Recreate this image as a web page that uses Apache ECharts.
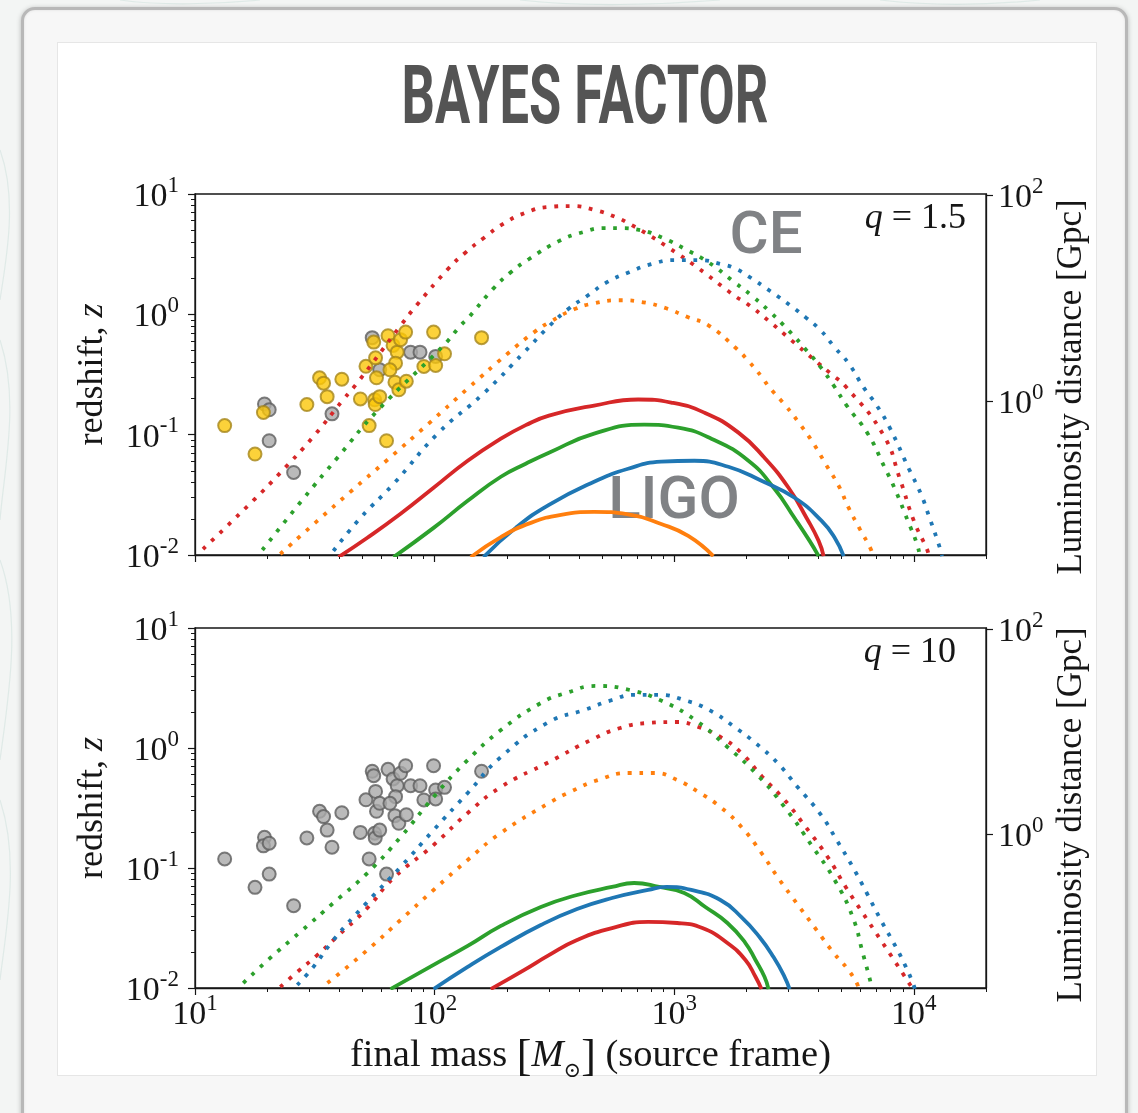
<!DOCTYPE html>
<html>
<head>
<meta charset="utf-8">
<title>Bayes factor</title>
<script src="https://cdn.jsdelivr.net/npm/echarts@6.0.0/dist/echarts.min.js"></script>
<style>
  html, body { margin: 0; padding: 0; width: 1138px; height: 1113px; overflow: hidden; background: #f3f5f4; }
  #swirl { position: absolute; left: 0; top: 0; }
  #card { position: absolute; left: 21px; top: 7px; width: 1107px; height: 1140px; box-sizing: border-box;
          border: 3px solid #b8b8b8; border-radius: 14px; background: #f7f7f7;
          box-shadow: 0 1px 5px rgba(0,0,0,0.25), inset 0 0 3px rgba(0,0,0,0.10); }
  #panel { position: absolute; left: 57px; top: 42px; width: 1040px; height: 1034px; box-sizing: border-box;
           background: #fff; border: 1px solid #e6e6e6; }
  #chart { position: absolute; left: 0; top: 0; width: 1138px; height: 1113px; }
</style>
</head>
<body>
<svg id="swirl" width="1138" height="1113">
  <g fill="none" stroke="#9cc4ba" stroke-opacity="0.22" stroke-width="1.2">
    <path d="M0 150 C 18 200, 6 260, 0 300"/>
    <path d="M0 340 C 20 400, 4 470, 0 520"/>
    <path d="M0 560 C 22 620, 8 700, 0 760"/>
    <path d="M0 800 C 20 860, 6 930, 0 980"/>
    <path d="M120 0 C 160 6, 220 4, 260 0"/>
    <path d="M520 0 C 580 7, 660 5, 720 0"/>
    <path d="M880 0 C 930 6, 990 5, 1040 0"/>
  </g>
</svg>
<div id="card"></div>
<div id="panel"></div>
<div id="chart"></div>
<script>
// ---------------- data ----------------
// axis extents
const massRange = [10, 20000];          // final mass, solar masses
const redshiftRange = [0.01, 10];

// tick values
const massTicks = [10, 100, 1000, 10000];
const redshiftTicks = [0.01, 0.1, 1, 10];
const minorSteps = [2, 3, 4, 5, 6, 7, 8, 9];
const distanceTicksGpc = [1, 100];
const distanceTickRedshift = [0.19, 9.8];   // redshift at which d_L reaches each distance tick

// detected events: [final mass, redshift]
const eventMassRedshift = [
  [13.3, 0.119], [17.8, 0.069], [19.5, 0.18], [19.3, 0.153], [20.4, 0.161], [20.4, 0.089],
  [25.8, 0.0485], [29.3, 0.178], [33.1, 0.297], [34.4, 0.268], [35.6, 0.207], [37.3, 0.149],
  [41.0, 0.289], [49.0, 0.198], [51.7, 0.37], [53.3, 0.119], [54.9, 0.64], [55.7, 0.588],
  [56.7, 0.435], [57.2, 0.297], [56.2, 0.195], [56.5, 0.178], [59.0, 0.207], [59.0, 0.346],
  [63.0, 0.089], [63.9, 0.664], [67.1, 0.552], [69.8, 0.485], [68.7, 0.393], [65.1, 0.346],
  [72.1, 0.616], [75.7, 0.712], [68.3, 0.273], [70.9, 0.236], [76.2, 0.278], [79.4, 0.485],
  [86.9, 0.485], [90.2, 0.369], [101, 0.447], [101, 0.376], [99, 0.712], [110, 0.47], [157, 0.64]
];
// 1 = event favoured by the Bayes factor for q = 1.5
const favouredQ15 = [
  1, 1, 0, 1, 0, 0,
  0, 1, 1, 1, 1, 0,
  1, 1, 1, 1, 0, 1,
  1, 1, 1, 1, 1, 0,
  1, 1, 1, 1, 1, 1,
  1, 1, 1, 1, 1, 0,
  0, 1, 0, 1, 1, 1, 1
];

// horizon curves, q = 1.5: [final mass, redshift]
const ceRedQ15 = [[10.8,0.0112],[17.8,0.0293],[22.7,0.0482],[30.9,0.0944],[41.6,0.196],[48.1,0.277],[72.8,0.826],[84.1,1.19],[113.4,2.37],[133.5,3.22],[160.3,4.30],[192.5,5.62],[238,6.95],[297,7.79],[371,7.94],[467,7.36],[583,6.31],[642,5.73],[786,4.55],[953,3.55],[1260,2.42],[1667,1.58],[1817,1.39],[2001,1.235],[2521,0.858],[3087,0.607],[3780,0.43],[4494,0.322],[5245,0.246],[7491,0.098],[8740,0.043],[10000,0.0192],[11335,0.0112],[11555,0.0098]];
const ceGreenQ15 = [[19.1,0.011],[28.3,0.0293],[39.3,0.0643],[57.7,0.158],[109,0.552],[128.5,0.81],[138.8,0.944],[174.9,1.62],[208,2.24],[247,2.87],[330,4.06],[416,4.82],[514,5.21],[583,5.21],[721,5.01],[899,4.3],[1112,3.48],[1388,2.71],[1782,1.85],[2121,1.41],[2521,1.04],[2999,0.736],[3567,0.501],[4122,0.355],[4627,0.256],[5245,0.1745],[6420,0.102],[7561,0.0531],[8328,0.0355],[9438,0.0192],[10294,0.0124],[10596,0.0098]];
const ceBlueQ15 = [[37.8,0.0108],[49,0.0203],[67.4,0.039],[103,0.102],[160,0.22],[236,0.482],[300,0.794],[360,1.1],[437,1.44],[524,1.85],[648,2.24],[801,2.61],[1000,2.82],[1272,2.82],[1573,2.61],[1782,2.42],[2040,2.07],[2521,1.555],[3087,1.166],[3533,0.944],[4083,0.736],[4672,0.531],[5346,0.39],[6177,0.246],[7003,0.1745],[7935,0.114],[9530,0.0521],[10697,0.0322],[11555,0.0211],[12849,0.0114],[13100,0.0098]];
const ceOrangeQ15 = [[22.7,0.0102],[32.4,0.0192],[44.5,0.0335],[63.6,0.0619],[94.4,0.1236],[137.4,0.2416],[202,0.473],[259.5,0.708],[305.7,0.874],[381.5,1.10],[462.8,1.235],[588.8,1.309],[741.9,1.259],[925.7,1.122],[1144,0.944],[1388,0.81],[1817,0.52],[2060,0.40],[2312,0.304],[2498,0.2466],[2913,0.1745],[3334,0.1236],[3815,0.0841],[4325,0.0552],[4856,0.0376],[5346,0.0246],[5944,0.0165],[6610,0.0112],[6739,0.0098]];
const ligoRedQ15 = [[39.7,0.0096],[52.4,0.0139],[72.1,0.022],[99,0.0362],[137.4,0.0607],[189,0.0926],[240,0.12],[300,0.144],[463,0.1745],[707,0.196],[971,0.185],[1335,0.1525],[1853,0.104],[2380,0.0643],[2999,0.0362],[3567,0.0203],[4005,0.0131],[4201,0.0098]];
const ligoGreenQ15 = [[67.4,0.0096],[99,0.0168],[137.4,0.0282],[189,0.0447],[240,0.0573],[300,0.0708],[463,0.102],[749,0.121],[1039,0.1143],[1428,0.0926],[2040,0.0607],[2620,0.0355],[3178,0.0203],[3672,0.0131],[4005,0.0098]];
const ligoBlueQ15 = [[160,0.0096],[218,0.0168],[300,0.0261],[463,0.0406],[642,0.0521],[882,0.0596],[1213,0.0607],[1682,0.0541],[2312,0.0414],[3178,0.0299],[4122,0.0192],[4672,0.0139],[5095,0.0098]];
const ligoOrangeQ15 = [[141.5,0.0096],[189,0.0141],[252,0.0185],[336.7,0.0216],[463,0.0228],[642,0.0218],[882,0.0181],[1144,0.0144],[1456,0.0098]];

// horizon curves, q = 10
const ceRedQ10 = [[22.7,0.0102],[26.7,0.0136],[32.1,0.0185],[37.8,0.0251],[52.4,0.0464],[67.4,0.0826],[99,0.1556],[137.4,0.287],[189,0.473],[300,0.764],[449,1.166],[595,1.468],[778,1.616],[1029,1.647],[1260,1.496],[1558,1.235],[1907,0.909],[2334,0.573],[2886,0.369],[3533,0.22],[4367,0.1236],[5194,0.0695],[6118,0.0422],[7277,0.0251],[8410,0.0162],[9904,0.0098]];
const ceGreenQ10 = [[15.9,0.011],[20.6,0.0178],[27.5,0.0293],[37.8,0.0511],[52.4,0.0908],[72.1,0.181],[99,0.391],[137.4,0.794],[189,1.41],[277.6,2.37],[353,2.87],[472,3.29],[654,3.04],[891,2.46],[1224,1.71],[1667,1.02],[2183,0.619],[2886,0.322],[3780,0.15],[4672,0.0794],[5556,0.039],[6118,0.0196],[6610,0.011],[6674,0.0098]];
const ceBlueQ10 = [[26.7,0.0106],[31.2,0.015],[37.8,0.0251],[52.4,0.0521],[72.1,0.102],[99,0.207],[137.4,0.422],[189,0.841],[300,1.647],[420,2.07],[550,2.51],[680,2.77],[865,2.77],[1101,2.51],[1401,2.07],[1782,1.5],[2183,1.10],[2698,0.75],[3270,0.473],[4044,0.287],[4764,0.171],[5556,0.102],[6359,0.0619],[7277,0.0369],[8410,0.022],[9258,0.015],[9904,0.011],[10097,0.0098]];
const ceOrangeQ10 = [[35.7,0.011],[52.4,0.0207],[72.1,0.0369],[99,0.0656],[137.4,0.1167],[189,0.196],[300,0.348],[367,0.43],[481,0.541],[648,0.619],[825,0.619],[1029,0.541],[1260,0.43],[1558,0.322],[1907,0.22],[2312,0.1334],[2698,0.0841],[3239,0.0511],[3927,0.0304],[4627,0.0196],[5245,0.0147],[5774,0.011],[5886,0.0098]];
const ligoRedQ10 = [[171.5,0.0098],[236,0.0141],[300,0.0188],[393,0.0251],[550,0.0316],[778,0.0355],[1029,0.0348],[1310,0.0316],[1667,0.0237],[1982,0.0171],[2183,0.0124],[2312,0.0098]];
const ligoGreenQ10 = [[65.4,0.0098],[99,0.0156],[137.4,0.0224],[189,0.0329],[277.6,0.0473],[393,0.0596],[550,0.0695],[680,0.075],[865,0.0695],[1101,0.0619],[1348,0.0473],[1667,0.0348],[1982,0.0237],[2183,0.0171],[2380,0.0124],[2474,0.0098]];
const ligoBlueQ10 = [[99,0.0098],[137.4,0.015],[189,0.022],[277.6,0.0335],[393,0.0455],[550,0.0562],[778,0.0656],[926,0.0695],[1178,0.0656],[1558,0.0541],[1907,0.039],[2268,0.0266],[2596,0.0181],[2886,0.0124],[3029,0.0098]];

// ---------------- styling ----------------
const SERIF = "'Liberation Serif', 'Times New Roman', serif";
const INK = '#161616';
const RED = '#d62728', GREEN = '#2ca02c', BLUE = '#1f77b4', ORANGE = '#ff7f0e';

const panels = [
  {
    grid: { left: 195, top: 194, width: 791, height: 361 },
    ce: [[ceRedQ15, RED], [ceGreenQ15, GREEN], [ceBlueQ15, BLUE], [ceOrangeQ15, ORANGE]],
    ligo: [[ligoRedQ15, RED], [ligoGreenQ15, GREEN], [ligoBlueQ15, BLUE], [ligoOrangeQ15, ORANGE]],
    useFavoured: true, xLabels: false, distanceNameY: 387
  },
  {
    grid: { left: 195, top: 628, width: 791, height: 360 },
    ce: [[ceRedQ10, RED], [ceGreenQ10, GREEN], [ceBlueQ10, BLUE], [ceOrangeQ10, ORANGE]],
    ligo: [[ligoRedQ10, RED], [ligoGreenQ10, GREEN], [ligoBlueQ10, BLUE]],
    useFavoured: false, xLabels: true, distanceNameY: 815
  }
];

const lg = Math.log10;
const majorLog = ticks => ticks.map(lg);
function minorLog(ticks, lo, hi) {
  const out = [];
  ticks.forEach(t => minorSteps.forEach(k => {
    const v = t * k;
    if (v > lo && v <= hi * 1.0000001) out.push(Math.min(lg(v), lg(hi)));
  }));
  return out;
}

const tickRich = {
  b: { fontFamily: SERIF, fontSize: 34, color: INK, lineHeight: 40, verticalAlign: 'bottom' },
  s: { fontFamily: SERIF, fontSize: 23, color: INK, lineHeight: 26, verticalAlign: 'top' }
};
const powLabel = e => '{b|10}{s|' + (e < 0 ? '-' + (-e) : e) + '}';
const logTickFormatter = v => powLabel(Math.round(v));
const distanceFormatter = v => {
  let best = 0;
  distanceTickRedshift.forEach((z, i) => {
    if (Math.abs(lg(z) - v) < Math.abs(lg(distanceTickRedshift[best]) - v)) best = i;
  });
  return powLabel(Math.round(lg(distanceTicksGpc[best])));
};

const hidden = { show: false };
const fixedLine = (show) => ({ show: show, onZero: false, lineStyle: { color: INK, width: 1.3 } });
const xAxes = [], yAxes = [], grids = [], series = [], nameTexts = [];

panels.forEach((p, gi) => {
  grids.push(Object.assign({ show: true, borderColor: INK, borderWidth: 1.3, backgroundColor: 'transparent', containLabel: false }, p.grid));
  const xBase = xAxes.length, yBase = yAxes.length;

  // mass axis carrying the data
  xAxes.push({
    type: 'log', logBase: 10, gridIndex: gi, position: 'bottom', min: massRange[0], max: massRange[1],
    axisLine: fixedLine(true),
    axisTick: hidden, axisLabel: hidden, splitLine: hidden, minorTick: hidden
  });
  // decade ticks and labels
  const xMajor = {
    type: 'value', gridIndex: gi, position: 'bottom', min: lg(massRange[0]), max: lg(massRange[1]),
    axisLine: fixedLine(false), splitLine: hidden,
    axisTick: { show: true, inside: false, length: 7, customValues: majorLog(massTicks), lineStyle: { color: INK, width: 1.2 } },
    axisLabel: { show: p.xLabels, customValues: majorLog(massTicks), formatter: logTickFormatter, rich: tickRich, margin: 4 }
  };
  if (p.xLabels) {
    Object.assign(xMajor, {
      name: '{n|final mass }{br|[}{i|M}{sub|\u2299}{br|]}{n| (source frame)}',
      nameLocation: 'middle', nameGap: 48,
      nameTextStyle: {
        rich: {
          n: { fontFamily: SERIF, fontSize: 38.5, color: INK, lineHeight: 46, verticalAlign: 'top' },
          br: { fontFamily: SERIF, fontSize: 44, color: INK, lineHeight: 46, verticalAlign: 'top' },
          i: { fontFamily: SERIF, fontSize: 38.5, fontStyle: 'italic', color: INK, lineHeight: 46, verticalAlign: 'top' },
          sub: { fontFamily: "'DejaVu Serif', serif", fontSize: 21, color: INK, lineHeight: 24, verticalAlign: 'bottom' }
        }
      }
    });
  }
  xAxes.push(xMajor);
  // minor ticks at 2..9 of each decade
  xAxes.push({
    type: 'value', gridIndex: gi, position: 'bottom', min: lg(massRange[0]), max: lg(massRange[1]),
    axisLine: fixedLine(false), splitLine: hidden, axisLabel: hidden,
    axisTick: { show: true, inside: false, length: 4, customValues: minorLog(massTicks, massRange[0], massRange[1]), lineStyle: { color: INK, width: 1 } }
  });

  // redshift axis carrying the data
  yAxes.push({
    type: 'log', logBase: 10, gridIndex: gi, position: 'left', min: redshiftRange[0], max: redshiftRange[1],
    axisLine: fixedLine(true),
    axisTick: hidden, axisLabel: hidden, splitLine: hidden, minorTick: hidden,
    name: '{n|redshift, }{i|z}', nameLocation: 'middle', nameGap: 84, nameRotate: 90,
    nameTextStyle: {
      rich: {
        n: { fontFamily: SERIF, fontSize: 36, color: INK },
        i: { fontFamily: SERIF, fontSize: 36, fontStyle: 'italic', color: INK }
      }
    }
  });
  yAxes.push({
    type: 'value', gridIndex: gi, position: 'left', min: lg(redshiftRange[0]), max: lg(redshiftRange[1]),
    axisLine: fixedLine(false), splitLine: hidden,
    axisTick: { show: true, inside: false, length: 7, customValues: majorLog(redshiftTicks), lineStyle: { color: INK, width: 1.2 } },
    axisLabel: { show: true, customValues: majorLog(redshiftTicks), formatter: logTickFormatter, rich: tickRich, margin: 16 }
  });
  yAxes.push({
    type: 'value', gridIndex: gi, position: 'left', min: lg(redshiftRange[0]), max: lg(redshiftRange[1]),
    axisLine: fixedLine(false), splitLine: hidden, axisLabel: hidden,
    axisTick: { show: true, inside: false, length: 4, customValues: minorLog(redshiftTicks, redshiftRange[0], redshiftRange[1]), lineStyle: { color: INK, width: 1 } }
  });
  // luminosity distance on the right, placed at the matching redshifts
  yAxes.push({
    type: 'value', gridIndex: gi, position: 'right', min: lg(redshiftRange[0]), max: lg(redshiftRange[1]),
    axisLine: fixedLine(true), splitLine: hidden,
    axisTick: { show: true, inside: false, length: 7, customValues: distanceTickRedshift.map(lg), lineStyle: { color: INK, width: 1.2 } },
    axisLabel: { show: true, customValues: distanceTickRedshift.map(lg), formatter: distanceFormatter, rich: tickRich, margin: 12 }
  });
  nameTexts.push({
    type: 'text', x: 1072, y: p.distanceNameY, rotation: Math.PI / 2,
    style: { text: 'Luminosity distance [Gpc]', fill: INK, font: '35px ' + SERIF, align: 'center', verticalAlign: 'middle' }
  });

  // events
  const gray = [], gold = [];
  eventMassRedshift.forEach((e, i) => ((p.useFavoured && favouredQ15[i]) ? gold : gray).push(e));
  series.push({
    type: 'scatter', xAxisIndex: xBase, yAxisIndex: yBase, data: gray, z: 1,
    symbol: 'circle', symbolSize: 13,
    itemStyle: { color: '#a9a9a9', borderColor: '#5e5e5e', borderWidth: 2 }
  });
  if (gold.length) {
    series.push({
      type: 'scatter', xAxisIndex: xBase, yAxisIndex: yBase, data: gold, z: 1,
      symbol: 'circle', symbolSize: 13,
      itemStyle: { color: '#fbc709', borderColor: '#a5861c', borderWidth: 2 }
    });
  }
  // Cosmic Explorer horizons (dotted) and LIGO horizons (solid)
  p.ce.forEach(([d, c]) => series.push({
    type: 'line', xAxisIndex: xBase, yAxisIndex: yBase, data: d, z: 2,
    showSymbol: false, smooth: 0.5, clip: true,
    lineStyle: { color: c, width: 3.8, type: [3.8, 7.8], cap: 'butt' }
  }));
  p.ligo.forEach(([d, c]) => series.push({
    type: 'line', xAxisIndex: xBase, yAxisIndex: yBase, data: d, z: 3,
    showSymbol: false, smooth: 0.5, clip: true,
    lineStyle: { color: c, width: 3.8 }
  }));
});

const qRich = {
  i: { fontFamily: SERIF, fontSize: 36, fontStyle: 'italic', fill: INK },
  n: { fontFamily: SERIF, fontSize: 36, fill: INK }
};

const option = {
  animation: false,
  backgroundColor: 'transparent',
  grid: grids,
  xAxis: xAxes,
  yAxis: yAxes,
  series: series,
  graphic: nameTexts.concat([
    {
      type: 'text', x: 585, y: 102, scaleX: 0.64, originX: 0, originY: 0,
      style: { text: 'BAYES FACTOR', fill: '#545454', font: 'bold 82px Roboto', align: 'center', verticalAlign: 'middle' }
    },
    {
      type: 'text', x: 766, y: 238,
      style: { text: 'CE', fill: '#808285', font: '500 60px Roboto', align: 'center', verticalAlign: 'middle' }
    },
    {
      type: 'text', x: 674, y: 503,
      style: { text: 'LIGO', fill: '#808285', font: '500 60px Roboto', align: 'center', verticalAlign: 'middle' }
    },
    {
      type: 'text', x: 966, y: 219,
      style: { text: '{i|q}{n| = 1.5}', rich: qRich, align: 'right', verticalAlign: 'middle' }
    },
    {
      type: 'text', x: 956, y: 653,
      style: { text: '{i|q}{n| = 10}', rich: qRich, align: 'right', verticalAlign: 'middle' }
    }
  ])
};

const chart = echarts.init(document.getElementById('chart'), null, { renderer: 'canvas' });
chart.setOption(option);
</script>
</body>
</html>
